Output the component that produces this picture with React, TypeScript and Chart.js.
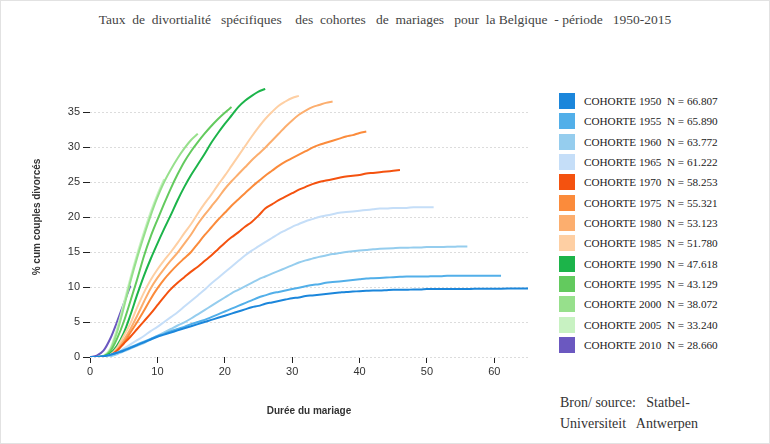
import React, { useEffect, useRef } from "react";
import { Chart, registerables } from "chart.js";

Chart.register(...registerables);

// ---- Data (cumulative % divorced couples by marriage duration, years 0..n) ----
const cohortLabels = [
  "COHORTE 1950  N = 66.807",
  "COHORTE 1955  N = 65.890",
  "COHORTE 1960  N = 63.772",
  "COHORTE 1965  N = 61.222",
  "COHORTE 1970  N = 58.253",
  "COHORTE 1975  N = 55.321",
  "COHORTE 1980  N = 53.123",
  "COHORTE 1985  N = 51.780",
  "COHORTE 1990  N = 47.618",
  "COHORTE 1995  N = 43.129",
  "COHORTE 2000  N = 38.072",
  "COHORTE 2005  N = 33.240",
  "COHORTE 2010  N = 28.660",
];

const cohortColors = [
  "#1b86db", "#52afe9", "#95cdee", "#c5def8",
  "#f4520f", "#fb8b3b", "#fcae6e", "#fecfa3",
  "#1cb44a", "#63ca5e", "#97e08c", "#c8f2c2",
  "#6b58c0",
];

const c1950 = [0, 0, 0.1, 0.3, 0.6, 0.9, 1.3, 1.7, 2.1, 2.5, 2.9, 3.2, 3.5, 3.8, 4.1, 4.4, 4.7, 5.0, 5.3, 5.6, 5.9, 6.2, 6.5, 6.8, 7.1, 7.3, 7.6, 7.8, 8.0, 8.2, 8.4, 8.5, 8.7, 8.8, 8.9, 9.0, 9.1, 9.2, 9.3, 9.35, 9.4, 9.45, 9.5, 9.5, 9.55, 9.6, 9.6, 9.6, 9.65, 9.65, 9.7, 9.7, 9.7, 9.7, 9.7, 9.72, 9.72, 9.74, 9.74, 9.75, 9.75, 9.76, 9.77, 9.78, 9.79, 9.8];
const c1955 = [0, 0, 0.1, 0.3, 0.6, 1.0, 1.4, 1.8, 2.2, 2.6, 3.0, 3.3, 3.7, 4.0, 4.3, 4.7, 5.0, 5.3, 5.7, 6.1, 6.5, 6.9, 7.3, 7.7, 8.1, 8.5, 8.8, 9.1, 9.3, 9.5, 9.7, 9.9, 10.1, 10.3, 10.4, 10.6, 10.7, 10.8, 10.9, 11.0, 11.1, 11.2, 11.25, 11.3, 11.35, 11.4, 11.45, 11.5, 11.5, 11.5, 11.5, 11.55, 11.55, 11.6, 11.6, 11.6, 11.6, 11.6, 11.6, 11.6, 11.6, 11.6];
const c1960 = [0, 0, 0, 0.1, 0.4, 0.8, 1.2, 1.6, 2.0, 2.5, 3.0, 3.5, 4.0, 4.5, 4.95, 5.5, 6.1, 6.7, 7.3, 7.9, 8.5, 9.1, 9.6, 10.1, 10.6, 11.1, 11.5, 11.9, 12.3, 12.7, 13.1, 13.5, 13.8, 14.05, 14.3, 14.5, 14.7, 14.85, 15.0, 15.1, 15.2, 15.3, 15.4, 15.45, 15.5, 15.55, 15.6, 15.6, 15.65, 15.65, 15.7, 15.7, 15.7, 15.75, 15.75, 15.8, 15.8];
const c1965 = [0, 0, 0, 0.2, 0.6, 1.2, 1.8, 2.4, 3.0, 3.7, 4.3, 5.0, 5.7, 6.4, 7.2, 8.0, 8.8, 9.6, 10.5, 11.3, 12.1, 12.9, 13.7, 14.5, 15.2, 15.8, 16.4, 17.0, 17.6, 18.1, 18.6, 19.0, 19.4, 19.7, 20.0, 20.2, 20.4, 20.6, 20.7, 20.8, 20.9, 21.0, 21.1, 21.2, 21.2, 21.3, 21.3, 21.3, 21.4, 21.4, 21.4, 21.4];
const c1970 = [0, 0, 0, 0.2, 0.9, 1.9, 2.9, 4.0, 5.1, 6.2, 7.4, 8.6, 9.7, 10.6, 11.4, 12.2, 12.9, 13.7, 14.5, 15.4, 16.3, 17.1, 17.8, 18.6, 19.3, 20.2, 21.2, 21.8, 22.4, 22.9, 23.4, 23.9, 24.3, 24.7, 25.0, 25.2, 25.4, 25.6, 25.8, 25.9, 26.0, 26.2, 26.3, 26.4, 26.5, 26.6, 26.7];
const c1975 = [0, 0, 0, 0.2, 0.9, 2.0, 3.5, 5.0, 6.6, 8.3, 9.8, 11.1, 12.2, 13.2, 14.1, 15.0, 16.2, 17.4, 18.5, 19.6, 20.6, 21.6, 22.5, 23.4, 24.3, 25.1, 25.9, 26.6, 27.3, 27.9, 28.4, 28.9, 29.4, 29.9, 30.3, 30.6, 30.9, 31.2, 31.5, 31.7, 32.0, 32.2];
const c1980 = [0, 0, 0, 0.2, 1.0, 2.4, 4.0, 5.9, 7.9, 9.8, 11.3, 12.6, 13.8, 14.9, 16.2, 17.5, 19.0, 20.3, 21.5, 22.7, 24.0, 25.1, 26.1, 27.1, 28.1, 29.0, 29.9, 30.9, 31.9, 32.9, 33.8, 34.6, 35.2, 35.7, 36.0, 36.3, 36.5];
const c1985 = [0, 0, 0, 0.3, 1.3, 3.0, 4.8, 7.1, 9.2, 11.0, 12.5, 13.8, 15.0, 16.3, 17.7, 19.0, 20.5, 21.9, 23.2, 24.6, 25.9, 27.3, 28.7, 30.1, 31.5, 32.8, 34.0, 35.0, 35.9, 36.5, 37.0, 37.3];
const c1990 = [0, 0, 0.1, 0.5, 1.6, 3.4, 6.0, 8.9, 11.6, 14.0, 16.2, 18.3, 20.3, 22.4, 24.3, 26.0, 27.5, 29.0, 30.6, 32.0, 33.3, 34.5, 35.7, 36.6, 37.3, 37.9, 38.3];
const c1995 = [0, 0, 0.1, 0.8, 2.6, 5.0, 8.0, 11.1, 14.4, 17.2, 19.6, 21.9, 24.1, 26.1, 27.9, 29.4, 30.7, 31.9, 33.0, 34.0, 34.9, 35.7];
const c2000 = [0, 0, 0.1, 1.0, 3.5, 7.0, 10.8, 14.2, 17.3, 20.2, 22.8, 25.0, 26.8, 28.4, 29.8, 31.0, 31.9];
const c2005 = [0, 0, 0.2, 1.2, 4.0, 7.6, 11.3, 14.7, 17.8, 20.7, 23.2, 25.4];
const c2010 = [0, 0.2, 0.9, 2.6, 5.0, 7.6, 10.2];

const cohortSeries = [c1950, c1955, c1960, c1965, c1970, c1975, c1980, c1985, c1990, c1995, c2000, c2005, c2010];

const xTickValues = [0, 10, 20, 30, 40, 50, 60];
const yTickValues = [0, 5, 10, 15, 20, 25, 30, 35];

const titleText =
  "Taux  de  divortialité   spécifiques    des  cohortes   de  mariages   pour  la Belgique  - période   1950-2015";
const sourceLine1 = "Bron/ source:   Statbel-";
const sourceLine2 = "Universiteit   Antwerpen";

const SANS = "'Liberation Sans', Arial, Helvetica, sans-serif";
const SERIF = "'Liberation Serif', 'Times New Roman', Times, serif";

export default function App() {
  const canvasRef = useRef<HTMLCanvasElement | null>(null);

  useEffect(() => {
    document.body.style.margin = "0";
    const canvas = canvasRef.current;
    if (!canvas) return;
    const datasets = cohortSeries.map((series, k) => ({
      label: cohortLabels[k],
      data: series.map((v, i) => ({ x: i, y: v })),
      borderColor: cohortColors[k],
      backgroundColor: cohortColors[k],
      borderWidth: 2,
      pointRadius: 0,
      fill: false,
      cubicInterpolationMode: "monotone" as const,
    }));

    const chart = new Chart(canvas, {
      type: "line",
      data: { datasets },
      options: {
        animation: false,
        responsive: false,
        maintainAspectRatio: false,
        devicePixelRatio: 1,
        layout: { padding: { left: 0, right: 17, top: 77, bottom: 0 } },
        plugins: {
          legend: { display: false },
          tooltip: { enabled: false },
          title: { display: false },
        },
        scales: {
          x: {
            type: "linear",
            min: 0,
            max: 65,
            afterFit: (s: any) => {
              s.height = 87;
            },
            afterBuildTicks: (s: any) => {
              s.ticks = xTickValues.map((v) => ({ value: v }));
            },
            ticks: {
              color: "#333",
              font: { family: SANS, size: 11 },
              padding: 2,
              maxRotation: 0,
            },
            grid: {
              drawOnChartArea: false,
              drawTicks: true,
              tickLength: 6,
              tickColor: "#222",
              tickWidth: 1,
            },
            border: { display: false },
            title: {
              display: true,
              text: "Durée du mariage",
              color: "#333",
              font: { family: SANS, size: 10, weight: "bold" },
              padding: { top: 0, bottom: 27 },
            },
          },
          y: {
            type: "linear",
            min: 0,
            max: 40,
            afterFit: (s: any) => {
              s.width = 90;
            },
            afterBuildTicks: (s: any) => {
              s.ticks = yTickValues.map((v) => ({ value: v }));
            },
            ticks: {
              color: "#333",
              font: { family: SANS, size: 11 },
              padding: 3,
            },
            grid: {
              drawOnChartArea: true,
              color: "#dcdcdc",
              lineWidth: 1,
              tickColor: "#222",
              tickLength: 7,
              tickWidth: 1,
              tickBorderDash: [],
            },
            border: { display: false, dash: [2, 2] },
            title: {
              display: true,
              text: "% cum couples divorcés",
              color: "#333",
              font: { family: SANS, size: 10, weight: "bold" },
              padding: { top: 31, bottom: 0 },
            },
          },
        },
      } as any,
    });
    return () => chart.destroy();
  }, []);

  return (
    <div
      style={{
        position: "fixed",
        left: 0,
        top: 0,
        width: 770,
        height: 444,
        background: "#fff",
        overflow: "hidden",
      }}
    >
      <div
        style={{
          position: "absolute",
          left: 0,
          top: 12,
          width: 770,
          textAlign: "center",
          fontFamily: SERIF,
          fontSize: 13.5,
          lineHeight: "16px",
          color: "#444",
          whiteSpace: "pre",
        }}
      >
        {titleText}
      </div>
      <canvas
        ref={canvasRef}
        width={545}
        height={444}
        style={{ position: "absolute", left: 0, top: 0, width: 545, height: 444 }}
      />
      {cohortLabels.map((lab, i) => (
        <div
          key={lab}
          style={{
            position: "absolute",
            left: 559,
            top: 93 + i * 20.33,
            height: 16,
            display: "flex",
            alignItems: "center",
          }}
        >
          <div style={{ width: 16, height: 16, background: cohortColors[i] }} />
          <div
            style={{
              marginLeft: 9,
              fontFamily: SERIF,
              fontSize: 11.2,
              lineHeight: "16px",
              color: "#222",
              whiteSpace: "pre",
            }}
          >
            {lab}
          </div>
        </div>
      ))}
      <div
        style={{
          position: "absolute",
          left: 560,
          top: 392,
          fontFamily: SERIF,
          fontSize: 14,
          lineHeight: "21px",
          color: "#333",
          whiteSpace: "pre",
        }}
      >
        <div>{sourceLine1}</div>
        <div>{sourceLine2}</div>
      </div>
      <div
        style={{
          position: "absolute",
          left: 0,
          top: 0,
          width: 770,
          height: 444,
          boxSizing: "border-box",
          border: "1px solid #e2e2e2",
          pointerEvents: "none",
        }}
      />
    </div>
  );
}
